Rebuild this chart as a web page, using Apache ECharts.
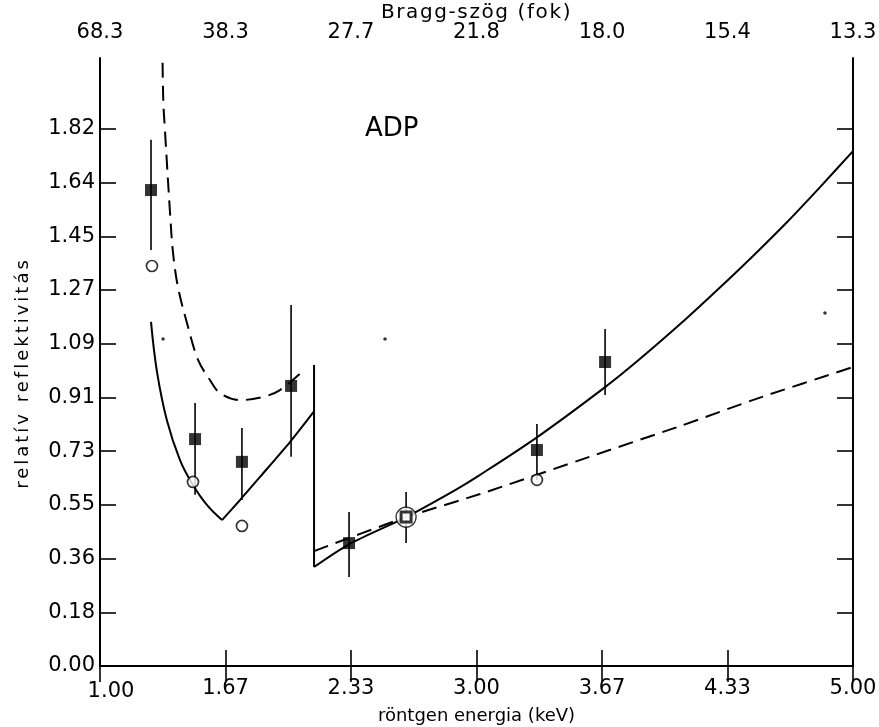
<!DOCTYPE html>
<html>
<head>
<meta charset="utf-8">
<script src="https://cdn.jsdelivr.net/npm/echarts@6/dist/echarts.min.js"></script>
<style>
html,body{margin:0;padding:0;background:#fff;}
#chart{width:879px;height:727px;}
</style>
</head>
<body>
<div id="chart"></div>
<script>
// ---- tick labels ----
const xTickValues = [1, 1.6667, 2.3333, 3, 3.6667, 4.3333, 5];
const xTickLabels = ['1.00', '1.67', '2.33', '3.00', '3.67', '4.33', '5.00'];
const braggLabels = ['68.3', '38.3', '27.7', '21.8', '18.0', '15.4', '13.3'];
const yTickValues = [0, 0.1818, 0.3636, 0.5455, 0.7273, 0.9091, 1.0909, 1.2727, 1.4545, 1.6364, 1.8182];
const yTickLabels = ['0.00', '0.18', '0.36', '0.55', '0.73', '0.91', '1.09', '1.27', '1.45', '1.64', '1.82'];

// ---- measured points (filled squares with error bars) ----
const squareE    = [1.271, 1.505, 1.754, 2.015, 2.323, 3.321, 3.683];
const squareV    = [1.611, 0.768, 0.691, 0.948, 0.416, 0.731, 1.029];
const squareLow  = [1.408, 0.580, 0.562, 0.708, 0.301, 0.630, 0.917];
const squareHigh = [1.781, 0.890, 0.806, 1.222, 0.521, 0.819, 1.141];

// ---- ringed reference point ----
const ringE = [2.626];
const ringV = [0.504];
const ringLow = [0.416];
const ringHigh = [0.589];

// ---- open circles ----
const circleE = [1.276, 1.494, 1.754, 3.321];
const circleV = [1.354, 0.623, 0.474, 0.630];

// ---- specks ----
const speckE = [1.335, 2.514, 4.851];
const speckV = [1.107, 1.107, 1.195];

// ---- dashed theory curve ----
const dashedLeftE = [1.331, 1.336, 1.345, 1.372, 1.388, 1.414, 1.462, 1.521, 1.584, 1.637, 1.744, 1.866, 1.956, 2.084];
const dashedLeftV = [2.120, 1.916, 1.814, 1.534, 1.398, 1.283, 1.161, 1.036, 0.968, 0.924, 0.900, 0.911, 0.934, 1.002];
const dashedRightE = [2.137, 2.626, 3.019, 3.600, 4.081, 4.490, 5.000];
const dashedRightV = [0.389, 0.504, 0.582, 0.708, 0.812, 0.905, 1.012];

// ---- solid theory curve ----
const solidDownE = [1.271, 1.303, 1.356, 1.425, 1.489, 1.568, 1.648];
const solidDownV = [1.165, 0.995, 0.830, 0.697, 0.618, 0.545, 0.494];
const solidUpE = [1.648, 1.744, 1.850, 2.009, 2.137];
const solidUpV = [0.494, 0.562, 0.640, 0.758, 0.862];
const edgeE = [2.137, 2.137];
const edgeV = [1.019, 0.335];
const solidRightE = [2.137, 2.323, 2.626, 2.896, 3.019, 3.321, 3.683, 3.869, 4.118, 4.293, 4.469, 4.649, 4.825, 5.000];
const solidRightV = [0.335, 0.412, 0.504, 0.599, 0.647, 0.774, 0.944, 1.040, 1.178, 1.281, 1.388, 1.502, 1.621, 1.743];

// ---- letter spacing for the hand-lettered axis titles ----
const spacedTitles = {'relatív reflektivitás': '3px', 'Bragg-szög (fok)': '1.6px'};
(function () {
  const proto = CanvasRenderingContext2D.prototype;
  const origFill = proto.fillText;
  proto.fillText = function (t, x, y, w) {
    const sp = spacedTitles[t];
    if (sp && ('letterSpacing' in this)) {
      const f = this.font;
      this.letterSpacing = sp;
      this.font = '10px serif';
      this.font = f;
      const r = w === undefined ? origFill.call(this, t, x, y) : origFill.call(this, t, x, y, w);
      this.letterSpacing = '0px';
      this.font = '10px serif';
      this.font = f;
      return r;
    }
    return w === undefined ? origFill.call(this, t, x, y) : origFill.call(this, t, x, y, w);
  };
})();

// ---- helpers ----
const zip = (a, b) => a.map((v, i) => [v, b[i]]);
const zip3 = (a, b, c) => a.map((v, i) => [v, b[i], c[i]]);
function lookup(values, labels, v) {
  for (let i = 0; i < values.length; i++) if (Math.abs(values[i] - v) < 1e-3) return labels[i];
  return '';
}
const FONT = 'DejaVu Sans';
const BLACK = '#000';

const chart = echarts.init(document.getElementById('chart'), null, {renderer: 'canvas'});

function lineSeries(E, V, dashed, smooth) {
  return {
    type: 'line', xAxisIndex: 0, yAxisIndex: 0,
    data: zip(E, V), symbol: 'none', smooth: smooth, clip: true,
    lineStyle: {color: BLACK, width: 2, type: dashed ? [15, 8] : 'solid'},
    z: 2, silent: true, animation: false
  };
}

function errorSeries(E, lo, hi) {
  return {
    type: 'custom', xAxisIndex: 0, yAxisIndex: 0,
    data: zip3(E, lo, hi),
    renderItem: function (params, api) {
      const p1 = api.coord([api.value(0), api.value(1)]);
      const p2 = api.coord([api.value(0), api.value(2)]);
      return {type: 'line', shape: {x1: p1[0], y1: p1[1], x2: p2[0], y2: p2[1]},
              style: {stroke: BLACK, lineWidth: 1.6}};
    },
    z: 3, silent: true, animation: false
  };
}

const axisCommon = {
  type: 'value', min: 1, max: 5,
  axisLine: {show: true, lineStyle: {color: BLACK, width: 2}},
  splitLine: {show: false}
};
const tickStyle = {color: BLACK, width: 1.6};

const option = {
  backgroundColor: '#fff',
  animation: false,
  grid: {left: 100, right: 26, top: 58, bottom: 61, containLabel: false, outerBoundsMode: 'none'},
  graphic: [{
    type: 'text', left: 365, top: 116,
    style: {text: 'ADP', font: '26px "DejaVu Sans"', fill: BLACK}
  }],
  xAxis: [
    Object.assign({}, axisCommon, {
      position: 'bottom',
      axisTick: {show: true, inside: true, length: 16, customValues: xTickValues, lineStyle: tickStyle},
      axisLabel: {
        customValues: xTickValues, showMinLabel: true, showMaxLabel: true,
        color: BLACK, fontSize: 21, fontFamily: FONT, margin: 12,
        formatter: function (v) {
          const s = lookup(xTickValues, xTickLabels, v);
          return Math.abs(v - 1) < 1e-6 ? '{first|' + s + '}' : s;
        },
        rich: {first: {fontSize: 21, fontFamily: FONT, color: BLACK, padding: [3, 0, 0, 22]}}
      },
      name: 'röntgen energia (keV)', nameLocation: 'middle', nameGap: 38,
      nameTextStyle: {color: BLACK, fontSize: 18, fontFamily: FONT}
    }),
    Object.assign({}, axisCommon, {
      position: 'top',
      axisTick: {show: true, inside: true, length: 16, customValues: xTickValues, lineStyle: tickStyle},
      axisLabel: {
        customValues: xTickValues, showMinLabel: true, showMaxLabel: true,
        color: BLACK, fontSize: 21, fontFamily: FONT, margin: 15,
        formatter: function (v) { return lookup(xTickValues, braggLabels, v); }
      },
      name: 'Bragg-szög (fok)', nameLocation: 'middle', nameGap: 35, nameMoveOverlap: false,
      nameTextStyle: {color: BLACK, fontSize: 20, fontFamily: FONT}
    })
  ],
  yAxis: [
    {
      type: 'value', position: 'left', min: 0, max: 2.058,
      axisLine: {show: true, lineStyle: {color: BLACK, width: 2}},
      splitLine: {show: false},
      axisTick: {show: true, inside: true, length: 16, customValues: yTickValues, lineStyle: tickStyle},
      axisLabel: {
        customValues: yTickValues, showMinLabel: true, showMaxLabel: true,
        color: BLACK, fontSize: 21, fontFamily: FONT, margin: 5,
        formatter: function (v) { return lookup(yTickValues, yTickLabels, v); }
      },
      name: 'relatív reflektivitás', nameLocation: 'middle', nameGap: 68,
      nameTextStyle: {color: BLACK, fontSize: 18, fontFamily: FONT, padding: [0, 22, 0, 0]}
    },
    {
      type: 'value', position: 'right', min: 0, max: 2.058,
      axisLine: {show: true, lineStyle: {color: BLACK, width: 2}},
      splitLine: {show: false},
      axisTick: {show: true, inside: true, length: 16, customValues: yTickValues, lineStyle: tickStyle},
      axisLabel: {show: false}
    }
  ],
  series: [
    lineSeries(dashedLeftE, dashedLeftV, true, 0.35),
    lineSeries(dashedRightE, dashedRightV, true, 0.2),
    lineSeries(solidDownE, solidDownV, false, 0.4),
    lineSeries(solidUpE, solidUpV, false, 0.2),
    lineSeries(edgeE, edgeV, false, false),
    lineSeries(solidRightE, solidRightV, false, 0.3),
    errorSeries(squareE, squareLow, squareHigh),
    errorSeries(ringE, ringLow, ringHigh),
    {
      type: 'scatter', xAxisIndex: 0, yAxisIndex: 0, data: zip(ringE, ringV),
      symbol: 'circle', symbolSize: 20,
      itemStyle: {color: '#fff', borderColor: BLACK, borderWidth: 1.3}, z: 4, silent: true
    },
    {
      type: 'scatter', xAxisIndex: 0, yAxisIndex: 0, data: zip(ringE, ringV),
      symbol: 'rect', symbolSize: 10,
      itemStyle: {color: '#fff', borderColor: BLACK, borderWidth: 3}, z: 5, silent: true
    },
    {
      type: 'scatter', xAxisIndex: 0, yAxisIndex: 0, data: zip(circleE, circleV),
      symbol: 'circle', symbolSize: 11,
      itemStyle: {color: '#fff', borderColor: BLACK, borderWidth: 1.7}, z: 4, silent: true
    },
    {
      type: 'scatter', xAxisIndex: 0, yAxisIndex: 0, data: zip(squareE, squareV),
      symbol: 'rect', symbolSize: 12,
      itemStyle: {color: BLACK}, z: 5, silent: true
    },
    {
      type: 'scatter', xAxisIndex: 0, yAxisIndex: 0, data: zip(speckE, speckV),
      symbol: 'circle', symbolSize: 3.5,
      itemStyle: {color: BLACK}, z: 5, silent: true
    }
  ]
};
chart.setOption(option);
</script>
</body>
</html>
